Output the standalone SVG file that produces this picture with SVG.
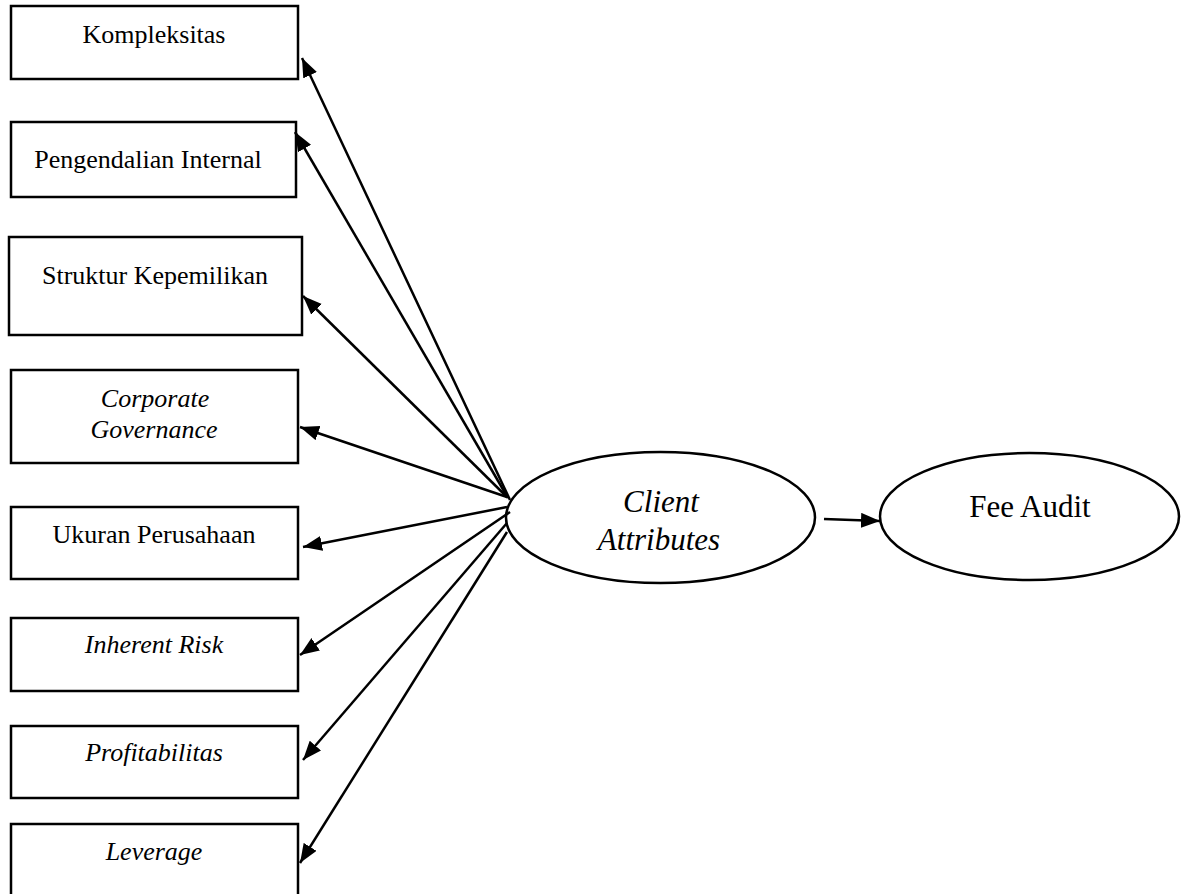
<svg xmlns="http://www.w3.org/2000/svg" width="1189" height="894" viewBox="0 0 1189 894">
<style>
.box{fill:#fff;stroke:#000;stroke-width:2.5}
.ell{fill:#fff;stroke:#000;stroke-width:2.5}
.t{font-family:"Liberation Serif","Times New Roman",serif;font-size:26px;fill:#000;text-anchor:middle}
.i{font-style:italic}
.big{font-size:31px}
.con line{stroke:#000;stroke-width:2.5;marker-end:url(#ah)}
</style>
<defs>
<marker id="ah" markerUnits="userSpaceOnUse" markerWidth="22" markerHeight="16" refX="19" refY="7.5" orient="auto">
<path d="M0,0 L19,7.5 L0,15 z" fill="#000"/>
</marker>
</defs>
<rect width="1189" height="894" fill="#fff"/>
<g id="n1"><rect class="box" x="11" y="6" width="287" height="73"/><text class="t" x="154" y="43">Kompleksitas</text></g>
<g id="n2"><rect class="box" x="11" y="122" width="285" height="75"/><text class="t" x="148" y="168">Pengendalian Internal</text></g>
<g id="n3"><rect class="box" x="9" y="237" width="293" height="98"/><text class="t" x="155" y="284">Struktur Kepemilikan</text></g>
<g id="n4"><rect class="box" x="11" y="370" width="287" height="93"/><text class="t i" x="155" y="407">Corporate</text><text class="t i" x="154" y="438">Governance</text></g>
<g id="n5"><rect class="box" x="11" y="507" width="287" height="72"/><text class="t" x="154" y="543">Ukuran Perusahaan</text></g>
<g id="n6"><rect class="box" x="11" y="618" width="287" height="73"/><text class="t i" x="154" y="653">Inherent Risk</text></g>
<g id="n7"><rect class="box" x="11" y="726" width="287" height="72"/><text class="t i" x="154" y="761">Profitabilitas</text></g>
<g id="n8"><rect class="box" x="11" y="824" width="287" height="90"/><text class="t i" x="154" y="860">Leverage</text></g>
<g id="client"><ellipse class="ell" cx="660.5" cy="517.5" rx="154.5" ry="65.5"/><text class="t i big" x="661" y="512">Client</text><text class="t i big" x="659" y="550">Attributes</text></g>
<g id="fee"><ellipse class="ell" cx="1029.5" cy="516.5" rx="149.5" ry="63.5"/><text class="t big" x="1030" y="517">Fee Audit</text></g>
<g id="connectors" class="con">
<line x1="510" y1="500" x2="302" y2="58"/>
<line x1="508" y1="498" x2="295" y2="132"/>
<line x1="507" y1="497" x2="303" y2="296"/>
<line x1="507" y1="497" x2="300" y2="427"/>
<line x1="507" y1="507" x2="303" y2="547"/>
<line x1="510" y1="512" x2="300" y2="655"/>
<line x1="507" y1="523" x2="303" y2="760"/>
<line x1="507" y1="532" x2="300" y2="863"/>
<line x1="824" y1="519" x2="880" y2="521"/>
</g>
</svg>
